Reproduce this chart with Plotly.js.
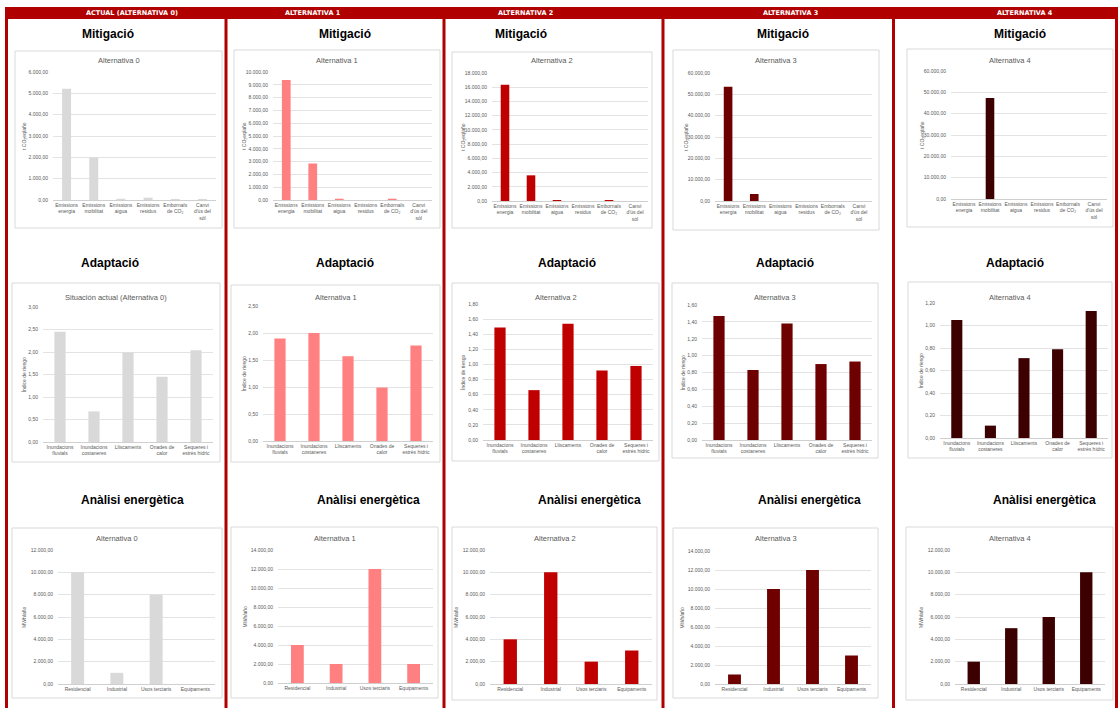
<!DOCTYPE html>
<html>
<head>
<meta charset="utf-8">
<script src="https://cdn.plot.ly/plotly-3.0.1.min.js"></script>
<style>
  html, body { margin: 0; padding: 0; background: #ffffff; }
  #chart { width: 1120px; height: 708px; }
</style>
</head>
<body>
<div id="chart"></div>
<script>
// ---- Categories and labels ----
const mitigationCategories = ['Emissions<br>energia', 'Emissions<br>mobilitat', 'Emissions<br>aigua',
  'Emissions<br>residus', 'Embornals<br>de CO₂', 'Canvi<br>d\'ús del<br>sòl'];
const adaptationCategories = ['Inundacions<br>fluvials', 'Inundacions<br>costaneres', 'Lliscaments',
  'Onades de<br>calor', 'Sequeres i<br>estrès hídric'];
const energyCategories = ['Residencial', 'Industrial', 'Usos terciaris', 'Equipaments'];

const columnHeaders = ['ACTUAL (ALTERNATIVA 0)', 'ALTERNATIVA 1', 'ALTERNATIVA 2', 'ALTERNATIVA 3', 'ALTERNATIVA 4'];
const mitigationTitles = ['Alternativa 0', 'Alternativa 1', 'Alternativa 2', 'Alternativa 3', 'Alternativa 4'];
const adaptationTitles = ['Situación actual (Alternativa 0)', 'Alternativa 1', 'Alternativa 2', 'Alternativa 3', 'Alternativa 4'];
const energyTitles = ['Alternativa 0', 'Alternativa 1', 'Alternativa 2', 'Alternativa 3', 'Alternativa 4'];

// ---- Mitigació: t CO2eq/año ----
const mitigationAlt0 = [5210, 1990, 60, 110, 50, 50];
const mitigationAlt1 = [9380, 2850, 100, 0, 100, 0];
const mitigationAlt2 = [16360, 3610, 140, 0, 140, 0];
const mitigationAlt3 = [53600, 3270, 0, 0, 0, 0];
const mitigationAlt4 = [0, 47360, 0, 0, 0, 0];

// ---- Adaptació: índice de riesgo ----
const adaptationAlt0 = [2.45, 0.68, 1.99, 1.45, 2.04];
const adaptationAlt1 = [1.90, 2.00, 1.57, 0.99, 1.77];
const adaptationAlt2 = [1.49, 0.66, 1.54, 0.92, 0.98];
const adaptationAlt3 = [1.47, 0.83, 1.38, 0.90, 0.93];
const adaptationAlt4 = [1.05, 0.11, 0.71, 0.79, 1.13];

// ---- Anàlisi energètica: MWh/año ----
const energyAlt0 = [10000, 1000, 8000, 0];
const energyAlt1 = [4000, 2000, 12000, 2000];
const energyAlt2 = [4000, 10000, 2000, 3000];
const energyAlt3 = [1000, 10000, 12000, 3000];
const energyAlt4 = [2000, 5000, 6000, 10000];

// ---- Styling ----
const W = 1120, H = 708;
const px = x => x / W;
const py = y => 1 - y / H;
const RED = '#b00000';
const altColors = ['#d9d9d9', '#ff8080', '#c00000', '#6e0000', '#3c0000'];
const TICK_FONT = { family: 'Liberation Sans, Arial, sans-serif', size: 5, color: '#595959' };

// Pixel geometry of each panel: box = outer grey frame, plot = plotting area
const rows = [
  {
    section: 'Mitigació', sectionY: 34, sectionX: [108, 345, 521, 783, 1020],
    titles: mitigationTitles, titleY: 61,
    cats: mitigationCategories,
    series: [mitigationAlt0, mitigationAlt1, mitigationAlt2, mitigationAlt3, mitigationAlt4],
    yMax: [6000, 10000, 18000, 60000, 60000], dtick: [1000, 1000, 2000, 10000, 10000],
    fmt: ',.2f', yTitle: 't CO₂eq/año', yTitleGap: 29,
    frames: [
      { box: [15, 222, 51, 228], plot: [53, 216, 72, 200] },
      { box: [234, 440, 50, 228], plot: [273, 432, 72, 200] },
      { box: [452, 652, 52, 228], plot: [492, 648, 73, 201] },
      { box: [673, 879, 50, 230], plot: [715, 872, 73, 201] },
      { box: [907, 1113, 49, 227], plot: [951, 1107, 71, 199] }
    ]
  },
  {
    section: 'Adaptació', sectionY: 263, sectionX: [110, 345, 567, 785, 1015],
    titles: adaptationTitles, titleY: 297,
    cats: adaptationCategories,
    series: [adaptationAlt0, adaptationAlt1, adaptationAlt2, adaptationAlt3, adaptationAlt4],
    yMax: [3, 2.5, 1.8, 1.6, 1.2], dtick: [0.5, 0.5, 0.2, 0.2, 0.2],
    fmt: ',.2f', yTitle: 'Índice de riesgo', yTitleGap: 20,
    frames: [
      { box: [12, 220, 283, 462], plot: [43, 213, 307, 442] },
      { box: [231, 440, 285, 462], plot: [263, 433, 306, 441] },
      { box: [452, 659, 283, 461], plot: [483, 653, 304, 440] },
      { box: [672, 878, 283, 458], plot: [702, 872, 305, 440] },
      { box: [908, 1112, 282, 458], plot: [940, 1108, 303, 438] }
    ]
  },
  {
    section: 'Anàlisi energètica', sectionY: 500, sectionX: [132, 368, 589, 809, 1044],
    titles: energyTitles, titleY: 538,
    cats: energyCategories,
    series: [energyAlt0, energyAlt1, energyAlt2, energyAlt3, energyAlt4],
    yMax: [12000, 14000, 12000, 14000, 12000], dtick: [2000, 2000, 2000, 2000, 2000],
    fmt: ',.2f', yTitle: 'MWh/año', yTitleGap: 34,
    frames: [
      { box: [12, 222, 528, 698], plot: [58, 215, 550, 684] },
      { box: [231, 438, 527, 698], plot: [278, 433, 550, 683] },
      { box: [452, 657, 527, 700], plot: [490, 652, 550, 684] },
      { box: [673, 878, 528, 698], plot: [715, 871, 551, 684] },
      { box: [906, 1113, 527, 700], plot: [955, 1105, 550, 684] }
    ]
  }
];

const traces = [];
const layout = {
  width: W, height: H,
  margin: { l: 0, r: 0, t: 0, b: 0 },
  paper_bgcolor: '#ffffff',
  plot_bgcolor: 'rgba(0,0,0,0)',
  separators: ',.',
  showlegend: false,
  bargap: 0.67,
  font: { family: 'Liberation Sans, Arial, sans-serif', color: '#595959' },
  shapes: [],
  annotations: []
};

let k = 0;
rows.forEach(row => {
  row.frames.forEach((fr, c) => {
    k += 1;
    const xa = 'xaxis' + (k === 1 ? '' : k);
    const ya = 'yaxis' + (k === 1 ? '' : k);
    const xr = 'x' + (k === 1 ? '' : k);
    const yr = 'y' + (k === 1 ? '' : k);
    const [bx0, bx1, by0, by1] = fr.box;
    const [p0, p1, q0, q1] = fr.plot;

    traces.push({
      type: 'bar', x: row.cats, y: row.series[c], xaxis: xr, yaxis: yr,
      marker: { color: altColors[c], line: { width: 0 } },
      hoverinfo: 'x+y'
    });

    layout[xa] = {
      domain: [px(p0), px(p1)], anchor: yr,
      type: 'category', showgrid: false, zeroline: false,
      showline: true, linecolor: '#bfbfbf', linewidth: 0.75,
      ticks: '', tickfont: TICK_FONT, tickangle: 0, fixedrange: true
    };
    layout[ya] = {
      domain: [py(q1), py(q0)], anchor: xr,
      range: [0, row.yMax[c]], dtick: row.dtick[c], tick0: 0,
      tickformat: row.fmt, showgrid: true, gridcolor: '#d9d9d9', gridwidth: 0.75,
      zeroline: false, showline: false, ticks: '', ticklabelstandoff: 4,
      tickfont: TICK_FONT, fixedrange: true
    };

    // grey chart frame
    layout.shapes.push({
      type: 'rect', xref: 'paper', yref: 'paper', layer: 'below',
      x0: px(bx0), x1: px(bx1), y0: py(by1), y1: py(by0),
      line: { color: '#d9d9d9', width: 1 }, fillcolor: 'rgba(0,0,0,0)'
    });

    // chart title
    layout.annotations.push({
      xref: 'paper', yref: 'paper', x: px((bx0 + bx1) / 2), y: py(row.titleY),
      text: row.titles[c], showarrow: false, xanchor: 'center', yanchor: 'middle',
      font: { family: 'Liberation Sans, Arial, sans-serif', size: 7.5, color: '#595959' }
    });

    // y-axis title
    layout.annotations.push({
      xref: 'paper', yref: 'paper', x: px(p0 - row.yTitleGap), y: py((q0 + q1) / 2),
      text: row.yTitle, showarrow: false, textangle: -90, xanchor: 'center', yanchor: 'middle',
      font: { family: 'Liberation Sans, Arial, sans-serif', size: 5, color: '#595959' }
    });

    // section heading
    layout.annotations.push({
      xref: 'paper', yref: 'paper', x: px(row.sectionX[c]), y: py(row.sectionY),
      text: '<b>' + row.section + '</b>', showarrow: false, xanchor: 'center', yanchor: 'middle',
      font: { family: 'Liberation Sans, Arial, sans-serif', size: 12, color: '#000000' }
    });
  });
});

// Red header band and column dividers
layout.shapes.push({
  type: 'rect', xref: 'paper', yref: 'paper', layer: 'above',
  x0: px(5), x1: px(1118), y0: py(19), y1: py(7),
  line: { width: 0 }, fillcolor: RED
});
const dividers = [6.5, 226, 444, 663, 893.5, 1116.5];
dividers.forEach(x => {
  layout.shapes.push({
    type: 'line', xref: 'paper', yref: 'paper', layer: 'above',
    x0: px(x), x1: px(x), y0: py(708), y1: py(7),
    line: { color: RED, width: 3 }
  });
});
const headerX = [132, 313, 525, 790, 1025];
columnHeaders.forEach((t, i) => {
  layout.annotations.push({
    xref: 'paper', yref: 'paper', x: px(headerX[i]), y: py(13),
    text: '<b>' + t + '</b>', showarrow: false, xanchor: 'center', yanchor: 'middle',
    font: { family: 'DejaVu Sans, sans-serif', size: 6.5, color: '#ffffff' }
  });
});

Plotly.newPlot('chart', traces, layout, { displayModeBar: false, staticPlot: true });
</script>
</body>
</html>
